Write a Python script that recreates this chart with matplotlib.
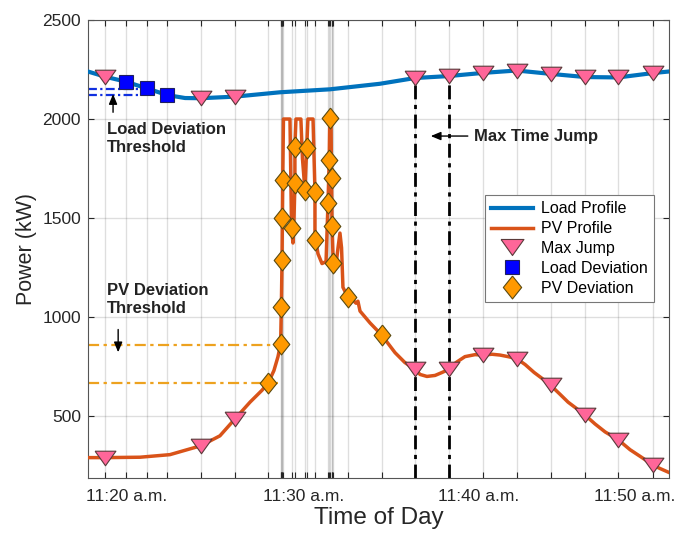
import numpy as np
import matplotlib
matplotlib.use('Agg')
import matplotlib.pyplot as plt

plt.rcParams['font.family'] = ['Liberation Sans', 'DejaVu Sans']

# ---- data (time in minutes after 11:00, power in kW) ----
load_t = [17.81, 18.78, 19.95, 21.15, 22.32, 23.33, 24.23, 26.16, 28.72, 31.56,
          34.40, 36.39, 38.32, 40.27, 42.17, 44.10, 46.05, 47.94, 49.90, 50.82]
load_kw = [2240, 2214, 2189, 2155, 2121, 2106, 2105, 2113, 2135, 2150,
           2178, 2207, 2217, 2233, 2245, 2228, 2212, 2210, 2232, 2240]

pv_t = [17.81, 18.78, 20.77, 22.47, 24.23, 25.31, 26.16, 27.02, 27.70, 28.06,
        28.38, 28.61, 28.76, 28.80, 28.84, 28.86, 28.88, 28.92, 29.29, 29.38,
        29.46, 29.52, 29.57, 29.57, 29.63, 29.91, 30.00, 30.14, 30.24, 30.31,
        30.60, 30.71, 30.71, 30.77, 30.88, 31.11, 31.34, 31.45, 31.52, 31.55,
        31.62, 31.65, 31.68, 31.75, 31.79, 31.90, 32.02, 32.13, 32.22, 32.30,
        32.47, 32.60, 32.81, 33.04, 33.15, 33.27, 33.84, 34.50, 35.26, 35.82,
        36.39, 36.68, 37.07, 37.53, 37.93, 38.32, 38.72, 39.23, 39.80, 40.27,
        40.77, 41.22, 41.68, 42.17, 42.65, 43.16, 43.61, 44.10, 44.63, 45.09,
        45.54, 46.05, 46.62, 47.19, 47.94, 48.61, 49.29, 49.90, 50.31, 50.82]
pv_kw = [290, 290, 292, 305, 350, 400, 485, 570, 630, 668,
         730, 800, 864, 1052, 1290, 1498, 1692, 2000, 2000, 1448,
         1374, 1500, 1675, 1860, 2000, 2000, 1800, 1641, 1852, 2000,
         2000, 1633, 1389, 1380, 1320, 1270, 1280, 1574, 1793, 2000,
         2000, 1700, 1460, 1271, 1230, 1260, 1350, 1424, 1350, 1150,
         1120, 1100, 1090, 1070, 1080, 1030, 970, 909, 820, 770,
         736, 710, 700, 705, 720, 736, 770, 800, 810, 808,
         812, 808, 800, 790, 760, 720, 690, 655, 610, 570,
         540, 505, 460, 420, 380, 330, 290, 253, 235, 215]

jump_t = [18.78, 24.23, 26.16, 36.39, 38.32, 40.27, 42.17, 44.10, 46.05, 47.94, 49.90]
jump_load = [2214, 2105, 2113, 2207, 2217, 2233, 2245, 2228, 2212, 2210, 2232]
jump_pv = [290, 350, 485, 736, 736, 808, 790, 655, 505, 380, 253]

load_dev_t = [19.95, 21.15, 22.32]
load_dev_kw = [2189, 2155, 2121]

pv_dev_t = [28.06, 28.76, 28.80, 28.84, 28.86, 28.88, 29.38, 29.57, 29.57, 30.24,
            30.14, 30.71, 30.71, 31.55, 31.52, 31.65, 31.45, 31.68, 31.75, 32.60, 34.50]
pv_dev_kw = [668, 864, 1052, 1290, 1498, 1692, 1448, 1860, 1675, 1852,
             1641, 1633, 1389, 2003, 1793, 1700, 1574, 1460, 1271, 1100, 909]

load_thresholds = [2150, 2121]
pv_thresholds = [858, 668]
max_jump_lines_t = [36.39, 38.32]
max_jump_lines_top = [2207, 2217]

tick_label_pos = [20.0, 30.09, 40.0, 48.89]
tick_labels = ['11:20 a.m.', '11:30 a.m.', '11:40 a.m.', '11:50 a.m.']

# ---- style ----
c_load = '#0072BD'
c_pv = '#D95319'
c_tri = '#FF6699'
c_sq = '#0000FF'
c_dia = '#FF9900'
c_thr_pv = '#EDA21F'
dark = '#262626'

tri_marker = [(-1, 0.7), (1, 0.7), (0, -0.7), (-1, 0.7)]
dia_marker = [(0, 1), (0.8, 0), (0, -1), (-0.8, 0), (0, 1)]

xmin, xmax = 17.81, 50.82
ymin, ymax = 187, 2500

fig = plt.figure(figsize=(6.76, 5.38), dpi=100)
ax = fig.add_axes([0.130, 0.1115, 0.8596, 0.8513])

# event gridlines / ticks
events = np.unique(np.concatenate([jump_t, load_dev_t, pv_dev_t]))
ax.set_xticks(events, minor=True)
ax.set_xticks(tick_label_pos)
ax.set_xticklabels(tick_labels)
ax.grid(which='minor', axis='x', color=dark, alpha=0.15, lw=1.0)
ax.set_yticks([500, 1000, 1500, 2000, 2500])
ax.grid(which='major', axis='y', color=dark, alpha=0.15, lw=1.0)
ax.set_axisbelow(True)

ax.tick_params(axis='x', which='major', length=0, pad=8, labelsize=12.5, labelcolor=dark)
ax.tick_params(axis='x', which='minor', direction='in', length=4, width=0.8,
               top=True, bottom=True, color=dark)
ax.tick_params(axis='y', which='major', direction='in', length=4, width=0.8,
               left=True, right=True, labelsize=12.5, labelcolor=dark, color=dark, pad=5)
for s in ax.spines.values():
    s.set_color('#555555')
    s.set_linewidth(0.8)

# thresholds
for v in load_thresholds:
    ax.plot([xmin, 20.77], [v, v], color='#1030E0', lw=1.6, ls=(0, (4, 1.5, 1, 1.5)), zorder=2)
for v in pv_thresholds:
    ax.plot([xmin, 28.6], [v, v], color=c_thr_pv, lw=1.6, ls=(0, (5, 2, 1.5, 2)), zorder=2)

# max time jump lines
for t, top in zip(max_jump_lines_t, max_jump_lines_top):
    ax.plot([t, t], [ymin, top], color='black', lw=2, ls=(0, (5, 2, 1.5, 2)), zorder=2)

# profiles
ax.plot(load_t, load_kw, color=c_load, lw=3, label='Load Profile', zorder=3)
ax.plot(pv_t, pv_kw, color=c_pv, lw=2.5, label='PV Profile', zorder=3)

# markers
ax.plot(jump_t, jump_load, ls='none', marker=tri_marker, ms=15, mfc=c_tri,
        mec='#5a3a3a', mew=0.8, label='Max Jump', zorder=5)
ax.plot(jump_t, jump_pv, ls='none', marker=tri_marker, ms=15, mfc=c_tri,
        mec='#5a3a3a', mew=0.8, label='_nolegend_', zorder=5)
ax.plot(load_dev_t, load_dev_kw, ls='none', marker='s', ms=9.5, mfc=c_sq,
        mec='#202060', mew=0.8, label='Load Deviation', zorder=5)
ax.plot(pv_dev_t, pv_dev_kw, ls='none', marker=dia_marker, ms=15, mfc=c_dia,
        mec='#5a4a10', mew=0.8, label='PV Deviation', zorder=5)

ax.set_xlim(xmin, xmax)
ax.set_ylim(ymin, ymax)

ax.set_ylabel('Power (kW)', fontsize=15.5, color=dark, labelpad=4)
ax.set_xlabel('Time of Day', fontsize=17.5, color=dark, labelpad=2)

# annotations
ax.text(18.89, 1986, 'Load Deviation\nThreshold', fontsize=12, fontweight='bold',
        va='top', ha='left', linespacing=1.25, color='#222222', zorder=6)
ax.annotate('', xy=(19.24, 2140), xytext=(19.24, 2020),
            arrowprops=dict(arrowstyle='-|>,head_length=0.6,head_width=0.25', color='black', lw=1),
            zorder=6)
ax.text(18.89, 1172, 'PV Deviation\nThreshold', fontsize=12, fontweight='bold',
        va='top', ha='left', linespacing=1.25, color='#222222', zorder=6)
ax.annotate('', xy=(19.53, 808), xytext=(19.53, 951),
            arrowprops=dict(arrowstyle='-|>,head_length=0.6,head_width=0.25', color='black', lw=1),
            zorder=6)
ax.text(39.74, 1914, 'Max Time Jump', fontsize=12, fontweight='bold',
        va='center', ha='left', color='#222222', zorder=6)
ax.annotate('', xy=(37.13, 1914), xytext=(39.55, 1914),
            arrowprops=dict(arrowstyle='-|>,head_length=0.6,head_width=0.25', color='black', lw=1),
            zorder=6)

leg = ax.legend(loc='upper left', bbox_to_anchor=(0.683, 0.618), fontsize=11.5,
                frameon=True, fancybox=False, framealpha=1, edgecolor='#777777',
                handlelength=2.6, handletextpad=0.5, labelspacing=0.3,
                borderpad=0.4, borderaxespad=0, markerscale=1.1)
leg.get_frame().set_linewidth(0.8)
leg.set_zorder(7)

fig.savefig('out.png', dpi=100)
